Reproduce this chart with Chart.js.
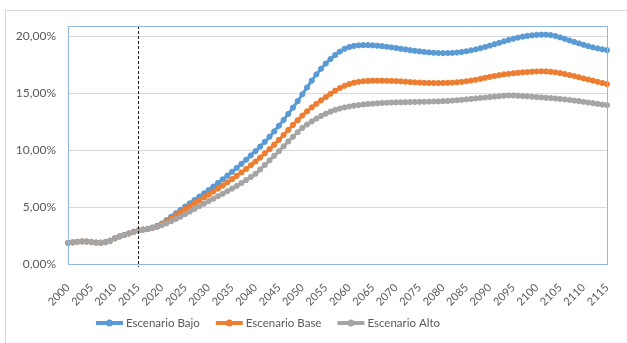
<!DOCTYPE html>
<html>
<head>
<meta charset="utf-8">
<script src="https://cdn.jsdelivr.net/npm/chart.js@4"></script>
<style>
  html, body { margin: 0; padding: 0; background: #ffffff; overflow: hidden; }
  #wrap { position: relative; width: 627px; height: 343px; }
  #frame { position: absolute; left: 5px; top: 10px; width: 700px; height: 400px;
           border-left: 1px solid #d9d9d9; border-top: 1px solid #d9d9d9; box-sizing: border-box; }
  canvas { position: absolute; left: 0; top: 0; }
</style>
</head>
<body>
<div id="wrap">
  <div id="frame"></div>
  <canvas id="c" width="627" height="343"></canvas>
</div>
<script>
// Years on the category axis: 2000 .. 2115
const years = Array.from({ length: 116 }, (_, i) => String(2000 + i));

// Y axis tick values (%)
const yTicks = [0, 5, 10, 15, 20];

// Year marked with the dashed vertical line
const markerYear = '2015';

// Series values (%), one per year
const escenarioBajo = [
  1.85, 1.90, 1.95, 1.98, 1.97, 1.93, 1.88, 1.87, 1.92, 2.05,
  2.25, 2.42, 2.55, 2.68, 2.82, 2.95, 3.02, 3.08, 3.20, 3.35,
  3.55, 3.85, 4.15, 4.45, 4.75, 5.05, 5.33, 5.62, 5.91, 6.20,
  6.50, 6.80, 7.11, 7.43, 7.76, 8.10, 8.44, 8.80, 9.16, 9.53,
  9.91, 10.31, 10.73, 11.18, 11.65, 12.14, 12.65, 13.18, 13.73, 14.30,
  14.90, 15.50, 16.10, 16.65, 17.15, 17.60, 18.00, 18.35, 18.65, 18.90,
  19.05, 19.15, 19.20, 19.22, 19.22, 19.20, 19.17, 19.13, 19.08, 19.02,
  18.97, 18.90, 18.84, 18.78, 18.72, 18.67, 18.62, 18.58, 18.55, 18.53,
  18.52, 18.52, 18.54, 18.57, 18.62, 18.68, 18.76, 18.85, 18.95, 19.06,
  19.18, 19.30, 19.42, 19.55, 19.67, 19.78, 19.88, 19.96, 20.03, 20.08,
  20.12, 20.14, 20.14, 20.10, 20.02, 19.90, 19.77, 19.63, 19.50, 19.37,
  19.25, 19.13, 19.02, 18.93, 18.85, 18.78
];

const escenarioBase = [
  1.85, 1.90, 1.95, 1.98, 1.97, 1.93, 1.88, 1.87, 1.92, 2.05,
  2.25, 2.42, 2.55, 2.68, 2.82, 2.95, 3.02, 3.08, 3.17, 3.30,
  3.50, 3.75, 4.00, 4.28, 4.55, 4.82, 5.08, 5.34, 5.60, 5.85,
  6.10, 6.36, 6.62, 6.89, 7.17, 7.45, 7.74, 8.04, 8.35, 8.67,
  9.00, 9.35, 9.71, 10.08, 10.48, 10.90, 11.33, 11.77, 12.21, 12.63,
  13.03, 13.40, 13.75, 14.07, 14.37, 14.65, 14.95, 15.22, 15.45, 15.65,
  15.80, 15.92, 16.00, 16.05, 16.08, 16.10, 16.10, 16.10, 16.09, 16.08,
  16.06, 16.04, 16.01, 15.98, 15.95, 15.93, 15.91, 15.90, 15.89, 15.89,
  15.90, 15.91, 15.93, 15.96, 16.00, 16.05, 16.11, 16.18, 16.26, 16.35,
  16.43, 16.51, 16.58, 16.65, 16.70, 16.75, 16.79, 16.83, 16.86, 16.89,
  16.91, 16.92, 16.91, 16.88, 16.83, 16.76, 16.68, 16.59, 16.50, 16.40,
  16.30, 16.20, 16.10, 16.00, 15.90, 15.80
];

const escenarioAlto = [
  1.85, 1.90, 1.95, 1.98, 1.97, 1.93, 1.88, 1.87, 1.92, 2.05,
  2.25, 2.42, 2.55, 2.68, 2.82, 2.95, 3.02, 3.08, 3.15, 3.25,
  3.40, 3.57, 3.75, 3.95, 4.15, 4.37, 4.60, 4.84, 5.08, 5.30,
  5.52, 5.73, 5.95, 6.17, 6.39, 6.62, 6.86, 7.11, 7.37, 7.64,
  7.92, 8.30, 8.70, 9.10, 9.50, 9.90, 10.33, 10.76, 11.17, 11.57,
  11.95, 12.25, 12.52, 12.77, 13.00, 13.20, 13.38, 13.53, 13.65, 13.75,
  13.83, 13.90, 13.96, 14.01, 14.05, 14.08, 14.11, 14.14, 14.16, 14.18,
  14.19, 14.20, 14.21, 14.22, 14.23, 14.24, 14.25, 14.26, 14.27, 14.28,
  14.30, 14.32, 14.35, 14.38, 14.42, 14.46, 14.50, 14.54, 14.58, 14.62,
  14.66, 14.70, 14.74, 14.78, 14.80, 14.80, 14.78, 14.75, 14.72, 14.69,
  14.66, 14.63, 14.60, 14.57, 14.53, 14.49, 14.45, 14.40, 14.35, 14.30,
  14.24, 14.18, 14.12, 14.06, 14.00, 13.95
];

const FONT = 'Lato, "Open Sans", sans-serif';
const TEXT = '#595959';

function series(label, data, color, order) {
  return {
    label, data, order,
    borderColor: color,
    backgroundColor: color,
    borderWidth: 3,
    pointRadius: 2.6,
    pointBorderWidth: 1,
    pointBorderColor: color,
    pointBackgroundColor: color,
    tension: 0.2,
    fill: false
  };
}

// Plot frame + dashed marker line
const frameAndMarker = {
  id: 'frameAndMarker',
  afterDatasetsDraw(chart) {
    const { ctx, chartArea: a, scales } = chart;
    ctx.save();
    const x = Math.round(scales.x.getPixelForValue(years.indexOf(markerYear))) + 0.5;
    ctx.strokeStyle = '#1a1a1a';
    ctx.lineWidth = 1;
    ctx.setLineDash([3, 2]);
    ctx.beginPath();
    ctx.moveTo(x, a.top);
    ctx.lineTo(x, a.bottom + 3);
    ctx.stroke();
    ctx.setLineDash([]);
    ctx.strokeStyle = '#8fb8e3';
    ctx.lineWidth = 1;
    ctx.strokeRect(Math.round(a.left) + 0.5, Math.round(a.top) + 0.5,
                   Math.round(a.right - a.left), Math.round(a.bottom - a.top));
    ctx.restore();
  }
};

// Legend along the bottom
const bottomLegend = {
  id: 'bottomLegend',
  afterDraw(chart) {
    const { ctx } = chart;
    const ds = chart.data.datasets;
    ctx.save();
    ctx.font = '11.5px ' + FONT;
    ctx.textBaseline = 'middle';
    const sample = 27, gapText = 3, gapItem = 16;
    const widths = ds.map(d => sample + gapText + ctx.measureText(d.label).width);
    const total = widths.reduce((s, w) => s + w, 0) + gapItem * (ds.length - 1);
    let x = 268 - total / 2;
    const y = 323;
    ds.forEach((d, i) => {
      ctx.strokeStyle = d.borderColor;
      ctx.lineWidth = 4;
      ctx.beginPath();
      ctx.moveTo(x, y);
      ctx.lineTo(x + sample, y);
      ctx.stroke();
      ctx.fillStyle = d.borderColor;
      ctx.beginPath();
      ctx.arc(x + sample / 2, y, 3.5, 0, Math.PI * 2);
      ctx.fill();
      ctx.fillStyle = TEXT;
      ctx.fillText(d.label, x + sample + gapText, y + 0.5);
      x += widths[i] + gapItem;
    });
    ctx.restore();
  }
};

new Chart(document.getElementById('c'), {
  type: 'line',
  data: {
    labels: years,
    datasets: [
      series('Escenario Bajo', escenarioBajo, '#5b9bd5', 2),
      series('Escenario Base', escenarioBase, '#ed7d31', 1),
      series('Escenario Alto', escenarioAlto, '#a5a5a5', 0)
    ]
  },
  options: {
    responsive: false,
    animation: false,
    devicePixelRatio: 1,
    layout: { padding: { left: 0, right: 20, top: 26, bottom: 0 } },
    plugins: { legend: { display: false }, tooltip: { enabled: false }, title: { display: false } },
    scales: {
      x: {
        type: 'category',
        offset: false,
        grid: { display: false },
        border: { display: false },
        afterFit(s) { s.height = 79; },
        ticks: {
          autoSkip: false,
          minRotation: 45,
          maxRotation: 45,
          padding: 9,
          color: TEXT,
          font: { family: FONT, size: 11 },
          callback(v) { const y = years[v]; return (+y) % 5 === 0 ? y : ''; }
        }
      },
      y: {
        min: 0,
        max: 20.9,
        afterFit(s) { s.width = 68; },
        afterBuildTicks(s) { s.ticks = yTicks.map(v => ({ value: v })); },
        grid: { color: '#d9d9d9', lineWidth: 1, drawTicks: false },
        border: { display: false },
        ticks: {
          padding: 12,
          color: TEXT,
          font: { family: FONT, size: 12 },
          callback(v) { return v.toFixed(2).replace('.', ',') + '%'; }
        }
      }
    }
  },
  plugins: [frameAndMarker, bottomLegend]
});
</script>
</body>
</html>
